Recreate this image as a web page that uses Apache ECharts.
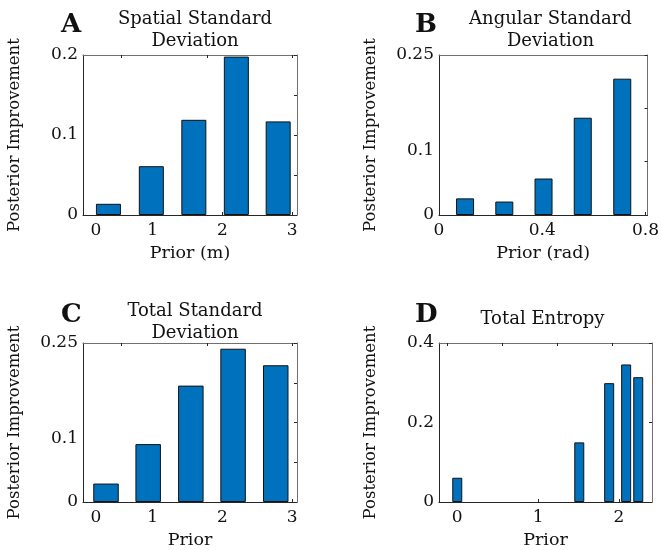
<!DOCTYPE html>
<html>
<head>
<meta charset="utf-8">
<script src="https://cdn.jsdelivr.net/npm/echarts@6/dist/echarts.min.js"></script>
<style>html,body{margin:0;padding:0;background:#fff}#c{width:662px;height:550px}</style>
</head>
<body>
<div id="c"></div>
<script>
// ---- data ----
const xA = [0.365, 0.98, 1.59, 2.2, 2.8];
const yA = [0.014, 0.061, 0.119, 0.198, 0.117];
const xB = [0.101, 0.253, 0.405, 0.557, 0.71];
const yB = [0.026, 0.021, 0.057, 0.152, 0.213];
const xC = [0.33, 0.935, 1.547, 2.153, 2.765];
const yC = [0.029, 0.091, 0.183, 0.241, 0.215];
const xD = [0.0, 1.51, 1.88, 2.09, 2.24];
const yD = [0.061, 0.15, 0.299, 0.346, 0.314];

const xTicksA = [0, 1, 2, 3];
const xTicksB = [0, 0.4, 0.8];
const xTicksC = [0, 1, 2, 3];
const xTicksD = [0, 1, 2];
const yTicksA = [0, 0.1, 0.2];
const yTicksB = [0, 0.1, 0.25];
const yTicksC = [0, 0.1, 0.25];
const yTicksD = [0, 0.2, 0.4];
const topTicksAC = [0.55, 1.78, 3.0];
const topTicksD = [-0.12, 0.56, 1.24, 1.92];

const titles = ['Spatial Standard\nDeviation', 'Angular Standard\nDeviation', 'Total Standard\nDeviation', 'Total Entropy'];
const letters = ['A', 'B', 'C', 'D'];
const xNames = ['Prior (m)', 'Prior (rad)', 'Prior', 'Prior'];
const yName = 'Posterior Improvement';

const FONT = 'DejaVu Serif';
const dark = '#262626';
const light = '#707070';

const panels = [
  {x: xA, y: yA, xt: xTicksA, yt: yTicksA, top: topTicksAC, xmin: 0, xmax: 3.07, ymax: 0.2, rint: 0.05, bw: 25,
   grid: {left: 83, top: 55, width: 214, height: 160}, shift0: true},
  {x: xB, y: yB, xt: xTicksB, yt: yTicksB, top: null, xmin: 0, xmax: 0.808, ymax: 0.25, rint: 0.25 / 3, bw: 18,
   grid: {left: 439, top: 55, width: 213, height: 160}, shift0: false},
  {x: xC, y: yC, xt: xTicksC, yt: yTicksC, top: topTicksAC, xmin: 0, xmax: 3.07, ymax: 0.25, rint: 0.0625, bw: 25.5,
   grid: {left: 83, top: 343, width: 214, height: 160}, shift0: true},
  {x: xD, y: yD, xt: xTicksD, yt: yTicksD, top: topTicksD, xmin: -0.226, xmax: 2.41, ymax: 0.4, rint: 0.2, bw: 10,
   grid: {left: 439, top: 343, width: 213, height: 160}, shift0: false}
];

const grids = [], xAxes = [], yAxes = [], series = [], titleOpts = [];
const fmt = v => String(Math.round(v * 100) / 100);

panels.forEach((p, i) => {
  grids.push(Object.assign({containLabel: false}, p.grid));
  // bottom x axis
  xAxes.push({
    type: 'value', gridIndex: i, position: 'bottom', min: p.xmin, max: p.xmax,
    name: xNames[i], nameLocation: 'middle', nameGap: 29,
    nameTextStyle: {fontFamily: FONT, fontSize: 17.5, color: '#111'},
    axisLine: {show: true, onZero: false, lineStyle: {color: dark, width: 1}},
    axisTick: {show: true, inside: true, length: 3, customValues: p.xt, lineStyle: {color: dark}},
    splitLine: {show: false},
    axisLabel: {
      customValues: p.xt, margin: 7, fontFamily: FONT, fontSize: 17, color: '#111',
      formatter: v => (p.shift0 && v === 0) ? '{s|0}' : fmt(v),
      rich: {s: {fontFamily: FONT, fontSize: 17, color: '#111', padding: [0, 0, 0, 26]}}
    }
  });
  // top x axis (box)
  xAxes.push({
    type: 'value', gridIndex: i, position: 'top', min: p.xmin, max: p.xmax,
    axisLine: {show: true, onZero: false, lineStyle: {color: light, width: 1}},
    axisTick: p.top ? {show: true, inside: true, length: 3, customValues: p.top, lineStyle: {color: dark}} : {show: false},
    axisLabel: {show: false}, splitLine: {show: false}
  });
  // left y axis
  yAxes.push({
    type: 'value', gridIndex: i, position: 'left', min: 0, max: p.ymax,
    name: yName, nameLocation: 'middle', nameGap: 60, nameRotate: 90,
    nameTextStyle: {fontFamily: FONT, fontSize: 16.5, color: '#111'},
    axisLine: {show: true, onZero: false, lineStyle: {color: dark, width: 1}},
    axisTick: {show: false},
    splitLine: {show: false},
    axisLabel: {customValues: p.yt, margin: 5, fontFamily: FONT, fontSize: 17, color: '#111', formatter: fmt}
  });
  // right y axis (box with ticks)
  yAxes.push({
    type: 'value', gridIndex: i, position: 'right', min: 0, max: p.ymax, interval: p.rint,
    axisLine: {show: true, onZero: false, lineStyle: {color: light, width: 1}},
    axisTick: {show: true, inside: true, length: 3, lineStyle: {color: dark}},
    axisLabel: {show: false}, splitLine: {show: false}
  });
  series.push({
    type: 'bar', xAxisIndex: i * 2, yAxisIndex: i * 2, barWidth: p.bw,
    data: p.x.map((xv, k) => [xv, p.y[k]]),
    itemStyle: {color: '#0072BD', borderColor: '#111', borderWidth: 1},
    silent: true, animation: false
  });
  const cx = p.grid.left + p.grid.width / 2;
  titleOpts.push({
    text: titles[i], left: (i === 3 ? cx - 8 : cx), top: (i < 2 ? 3 : (i === 2 ? 295 : 303)), textAlign: 'center',
    textStyle: {fontFamily: FONT, fontSize: 18, fontWeight: 'normal', color: '#111', lineHeight: 22}
  });
  titleOpts.push({
    text: letters[i], left: (i % 2 === 0 ? 56 : 410), top: (i < 2 ? 7 : 297),
    textStyle: {fontFamily: FONT, fontSize: 26, fontWeight: 'bold', color: '#111'}
  });
});

const chart = echarts.init(document.getElementById('c'), null, {renderer: 'canvas'});
chart.setOption({
  backgroundColor: '#ffffff',
  animation: false,
  title: titleOpts,
  grid: grids,
  xAxis: xAxes,
  yAxis: yAxes,
  series: series
});
</script>
</body>
</html>
